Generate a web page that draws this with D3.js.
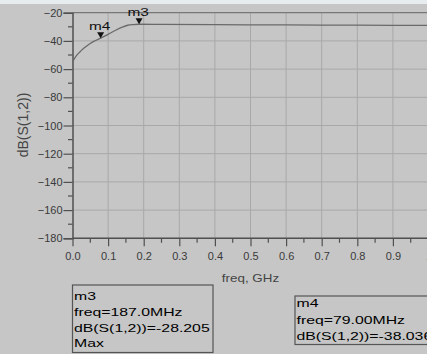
<!DOCTYPE html>
<html>
<head>
<meta charset="utf-8">
<script src="https://cdn.jsdelivr.net/npm/d3@7"></script>
<style>
  body { margin: 0; background: #c6c6c6; }
  svg { display: block; font-family: "Liberation Sans", Arial, sans-serif; }
</style>
</head>
<body>
<svg width="427" height="354"></svg>
<script>
// trace data (freq in GHz, dB(S(1,2)))
var freq = [0, 0.01, 0.02, 0.03, 0.04, 0.05, 0.06, 0.079, 0.1, 0.12, 0.14, 0.155, 0.17, 0.187, 0.25, 0.4, 0.6, 0.8, 1.0];
var s12 = [-55, -50.8, -48, -45.6, -43.6, -41.8, -40.3, -38.036, -35.4, -32.6, -30.2, -28.9, -28.4, -28.205, -28.3, -28.5, -28.7, -28.85, -29];
var xTicks = [0, 0.1, 0.2, 0.3, 0.4, 0.5, 0.6, 0.7, 0.8, 0.9, 1.0];
var yTicks = [-20, -40, -60, -80, -100, -120, -140, -160, -180];
var markers = [
  {name: "m3", f: 0.187, v: -28.205, lines: ["m3", "freq=187.0MHz", "dB(S(1,2))=-28.205", "Max"]},
  {name: "m4", f: 0.079, v: -38.036, lines: ["m4", "freq=79.00MHz", "dB(S(1,2))=-38.036"]}
];

var svg = d3.select("svg");
var SX = 1.34; // text in the original is drawn wide
var ink = "#505050";

// light strip at the top
svg.append("rect").attr("x", 0).attr("y", 0).attr("width", 427).attr("height", 4).attr("fill", "#e7ecee");

var x = d3.scaleLinear().domain([0, 1]).range([72.5, 428.5]);
var y = d3.scaleLinear().domain([-20, -180]).range([12.7, 238.3]);

function wideText(px, py, str, size, anchor) {
  var g = svg.append("g").attr("transform", "translate(" + px + "," + py + ") scale(" + SX + ",1)");
  return g.append("text").attr("text-anchor", anchor || "start").attr("font-size", size).text(str);
}

// grid
svg.append("g").selectAll("line").data(xTicks.slice(1)).enter().append("line")
  .attr("x1", d => x(d)).attr("x2", d => x(d)).attr("y1", y(-20)).attr("y2", y(-180))
  .attr("stroke", "#a8a8a8").attr("stroke-width", 1);
svg.append("g").selectAll("line").data(yTicks).enter().append("line")
  .attr("x1", x(0)).attr("x2", 427).attr("y1", d => y(d)).attr("y2", d => y(d))
  .attr("stroke", d => d == -20 ? "#777" : "#a8a8a8").attr("stroke-width", d => d == -20 ? 1.3 : 1);

// axes
var xAxis = d3.axisBottom(x).tickValues(xTicks).tickSize(8).tickPadding(6)
  .tickFormat((d) => d == 1 ? "1" : d3.format(".1f")(d));
var gx = svg.append("g").attr("transform", "translate(0," + y(-180) + ")").call(xAxis);
var yAxis = d3.axisLeft(y).tickValues(yTicks).tickSize(9).tickPadding(1);
var gy = svg.append("g").attr("transform", "translate(" + x(0) + ",0)").call(yAxis);
[gx, gy].forEach(function(g) {
  g.select(".domain").attr("stroke", ink).attr("stroke-width", 1.5);
  g.selectAll(".tick line").attr("stroke", ink).attr("stroke-width", 1.2);
  g.selectAll(".tick text").attr("fill", "#3a3a3a").attr("font-family", "Liberation Sans, Arial, sans-serif");
});
gx.selectAll(".tick text").attr("font-size", 11);
gy.selectAll(".tick text").attr("font-size", 11);
gx.select(".domain").attr("d", "M" + x(0) + ",0H427");

// minor ticks
var xMinor = d3.range(0.05, 1.0, 0.1);
svg.append("g").selectAll("line").data(xMinor).enter().append("line")
  .attr("x1", d => x(d)).attr("x2", d => x(d)).attr("y1", y(-180)).attr("y2", y(-180) + 4.5)
  .attr("stroke", ink).attr("stroke-width", 1.2);
var yMinor = d3.range(-30, -180, -20);
svg.append("g").selectAll("line").data(yMinor).enter().append("line")
  .attr("x1", x(0) - 4.5).attr("x2", x(0)).attr("y1", d => y(d)).attr("y2", d => y(d))
  .attr("stroke", ink).attr("stroke-width", 1.2);

// axis titles
svg.append("text").attr("transform", "translate(27.5,125) rotate(-90)").attr("text-anchor", "middle")
  .attr("font-size", 14).attr("fill", "#444").text("dB(S(1,2))");
wideText(250.5, 282, "freq, GHz", 10, "middle").attr("fill", "#444");

// trace
var line = d3.line().x((d, i) => x(freq[i])).y(d => y(d)).curve(d3.curveMonotoneX);
svg.append("path").datum(s12).attr("d", line).attr("fill", "none")
  .attr("stroke", "#6a6a6a").attr("stroke-width", 1.3);

// marker triangles and labels
markers.forEach(function(m) {
  var px = x(m.f), py = y(m.v);
  svg.append("path").attr("d", "M" + (px - 3.5) + "," + (py - 6) + "L" + (px + 3.5) + "," + (py - 6) + "L" + px + "," + py + "Z")
    .attr("fill", "#111");
  wideText(px - 1, py - 8.5, m.name, 11.5, "middle").attr("fill", "#111");
});

// marker readout boxes
var boxes = [{x: 72.5, y: 285, w: 140.5, h: 67.5, base: 300, step: 15.8},
             {x: 295, y: 296, w: 140, h: 48.5, base: 307, step: 16.5}];
markers.forEach(function(m, i) {
  var b = boxes[i];
  svg.append("rect").attr("x", b.x).attr("y", b.y).attr("width", b.w).attr("height", b.h)
    .attr("fill", "none").attr("stroke", "#555").attr("stroke-width", 1.2);
  m.lines.forEach(function(t, j) {
    wideText(b.x + 1.5, b.base + j * b.step, t, 11.8).attr("fill", "#000");
  });
});
</script>
</body>
</html>
